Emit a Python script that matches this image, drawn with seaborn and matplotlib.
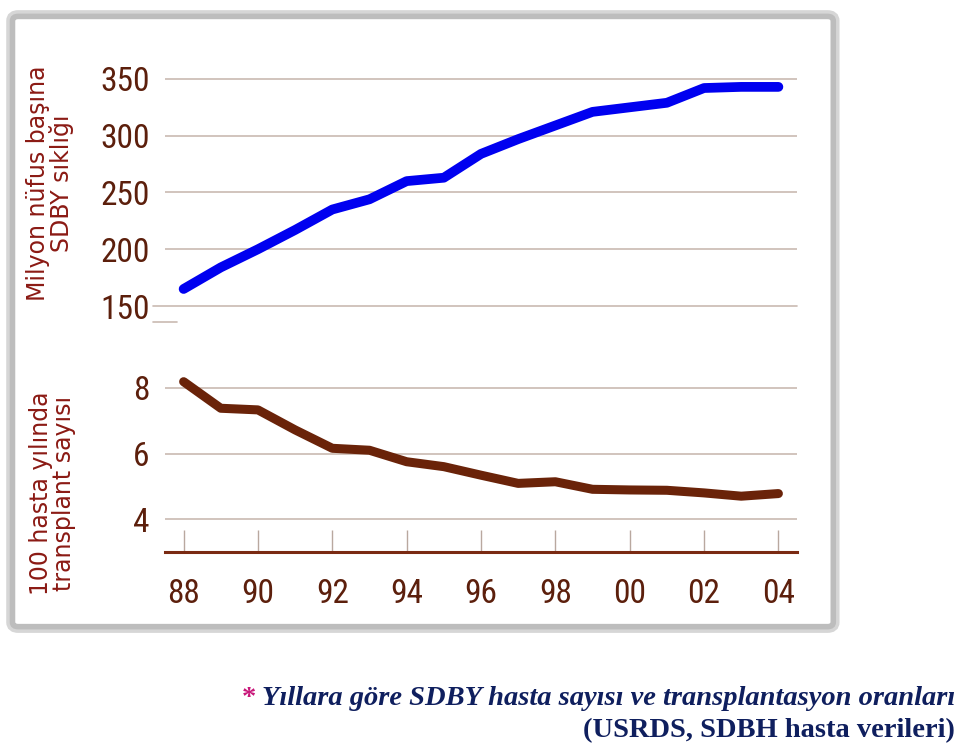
"""ESRD incidence and transplant rate by year (USRDS)."""

import matplotlib

matplotlib.use("Agg")
import matplotlib.pyplot as plt
import pandas as pd
import seaborn as sns
from matplotlib import font_manager
from matplotlib.patches import FancyBboxPatch

# data
years = list(range(1988, 2005))
esrd_per_million = [165, 184, 200, 217, 235, 244, 260, 263, 284, 297,
                    309, 321, 325, 329, 342, 343, 343]
transplant_per_100 = [8.19, 7.38, 7.33, 6.72, 6.16, 6.10, 5.75, 5.60, 5.34,
                      5.09, 5.14, 4.91, 4.89, 4.88, 4.80, 4.70, 4.78]
tick_years = [1988, 1990, 1992, 1994, 1996, 1998, 2000, 2002, 2004]
tick_labels = ["88", "90", "92", "94", "96", "98", "00", "02", "04"]
top_yticks = [150, 200, 250, 300, 350]
bottom_yticks = [4, 6, 8]

top_ylabel = "Milyon nüfus başına\nSDBY sıklığı"
bottom_ylabel = "100 hasta yılında\ntransplant sayısı"
caption_1 = "Yıllara göre SDBY hasta sayısı ve transplantasyon oranları"
caption_2 = "(USRDS, SDBH hasta verileri)"

df = pd.DataFrame({"year": years, "esrd": esrd_per_million,
                   "tx": transplant_per_100})

sns.set_theme(style="white")
plt.rcParams["font.family"] = ["DejaVu Sans"]

# pick a condensed face for the numbers if one is installed
_names = {f.name for f in font_manager.fontManager.ttflist}
NUM_FONT = "DejaVu Sans"
for cand in ("Liberation Sans Narrow", "Roboto Condensed", "Open Sans Condensed",
             "DejaVu Sans Condensed"):
    if cand in _names:
        NUM_FONT = cand
        break
NUM_PROPS = font_manager.FontProperties(family=NUM_FONT, stretch="condensed",
                                        size=24)

TICK_COLOR = "#5c1f0c"
GRID_COLOR = "#c9bab2"
LABEL_COLOR = "#8b1a14"

fig = plt.figure(figsize=(9.6, 7.46), dpi=100)

# framed panel with grey shadow (behind the axes)
for lw, ec in ((9, "#d6d6d6"), (4, "#bdbdbd")):
    fig.patches.append(FancyBboxPatch(
        (0.013, 0.160), 0.855, 0.818,
        boxstyle="round,pad=0,rounding_size=0.006",
        transform=fig.transFigure, facecolor="white", edgecolor=ec,
        linewidth=lw, zorder=-5))

ax_top = fig.add_axes([0.1719, 0.5898, 0.6583, 0.3298])
ax_bot = fig.add_axes([0.1719, 0.2601, 0.6583, 0.2507])

for ax in (ax_top, ax_bot):
    ax.set_facecolor("none")
    ax.set_xlim(1987.5, 2004.5)
    for s in ("top", "right", "left"):
        ax.spines[s].set_visible(False)

# top panel
for v in top_yticks[1:]:
    ax_top.axhline(v, color=GRID_COLOR, lw=1.2, zorder=1)
ax_top.axhline(150, xmin=-0.019, xmax=1, color=GRID_COLOR, lw=1.2,
               clip_on=False, zorder=1)
ax_top.plot([-0.019, 0.019], [-0.065, -0.065], transform=ax_top.transAxes,
            color=GRID_COLOR, lw=1.2, clip_on=False)
sns.lineplot(data=df, x="year", y="esrd", ax=ax_top, color="#0000f0",
             lw=7, solid_capstyle="round", zorder=3)
ax_top.set_ylim(150, 366.7)
ax_top.set_yticks(top_yticks)
ax_top.set_xticks([])
ax_top.spines["bottom"].set_visible(False)
ax_top.tick_params(axis="y", length=0, pad=11)
ax_top.set_xlabel("")
ax_top.set_ylabel("")

# bottom panel
for v in bottom_yticks:
    ax_bot.axhline(v, color=GRID_COLOR, lw=1.2, zorder=1)
sns.lineplot(data=df, x="year", y="tx", ax=ax_bot, color="#6a2309",
             lw=6.5, solid_capstyle="round", zorder=3)
ax_bot.set_ylim(3, 8.7)
ax_bot.set_yticks(bottom_yticks)
ax_bot.set_xticks(tick_years)
ax_bot.set_xticklabels(tick_labels)
ax_bot.spines["bottom"].set_color("#7a2a12")
ax_bot.spines["bottom"].set_linewidth(2.2)
ax_bot.tick_params(axis="x", bottom=True, direction="in", length=16,
                   width=1, color="#b9a89f", pad=19)
ax_bot.tick_params(axis="y", length=0, pad=11)
ax_bot.set_xlabel("")
ax_bot.set_ylabel("")

for ax in (ax_top, ax_bot):
    for lab in ax.get_xticklabels() + ax.get_yticklabels():
        lab.set_fontproperties(NUM_PROPS)
        lab.set_color(TICK_COLOR)

fig.text(0.052, 0.754, top_ylabel, rotation=90, ha="center", va="center",
         fontsize=17, color=LABEL_COLOR, linespacing=0.95)
fig.text(0.055, 0.339, bottom_ylabel, rotation=90, ha="center", va="center",
         fontsize=17, color=LABEL_COLOR, linespacing=0.95)

# caption
cap = fig.text(0.995, 0.055, caption_1, ha="right", va="baseline",
               fontsize=20.5, fontweight="bold", fontstyle="italic",
               family=["Liberation Serif"], color="#0f1f5e")
fig.canvas.draw()
bb = cap.get_window_extent()
fig.text(bb.x0 / fig.bbox.width - 0.006, 0.055, "*", ha="right",
         va="baseline", fontsize=20.5, fontweight="bold",
         family=["Liberation Serif"], color="#c8187a")
fig.text(0.995, 0.012, caption_2, ha="right", va="baseline",
         fontsize=20.5, fontweight="bold", family=["Liberation Serif"],
         color="#0f1f5e")

fig.savefig("out.png", dpi=100)
plt.close(fig)
